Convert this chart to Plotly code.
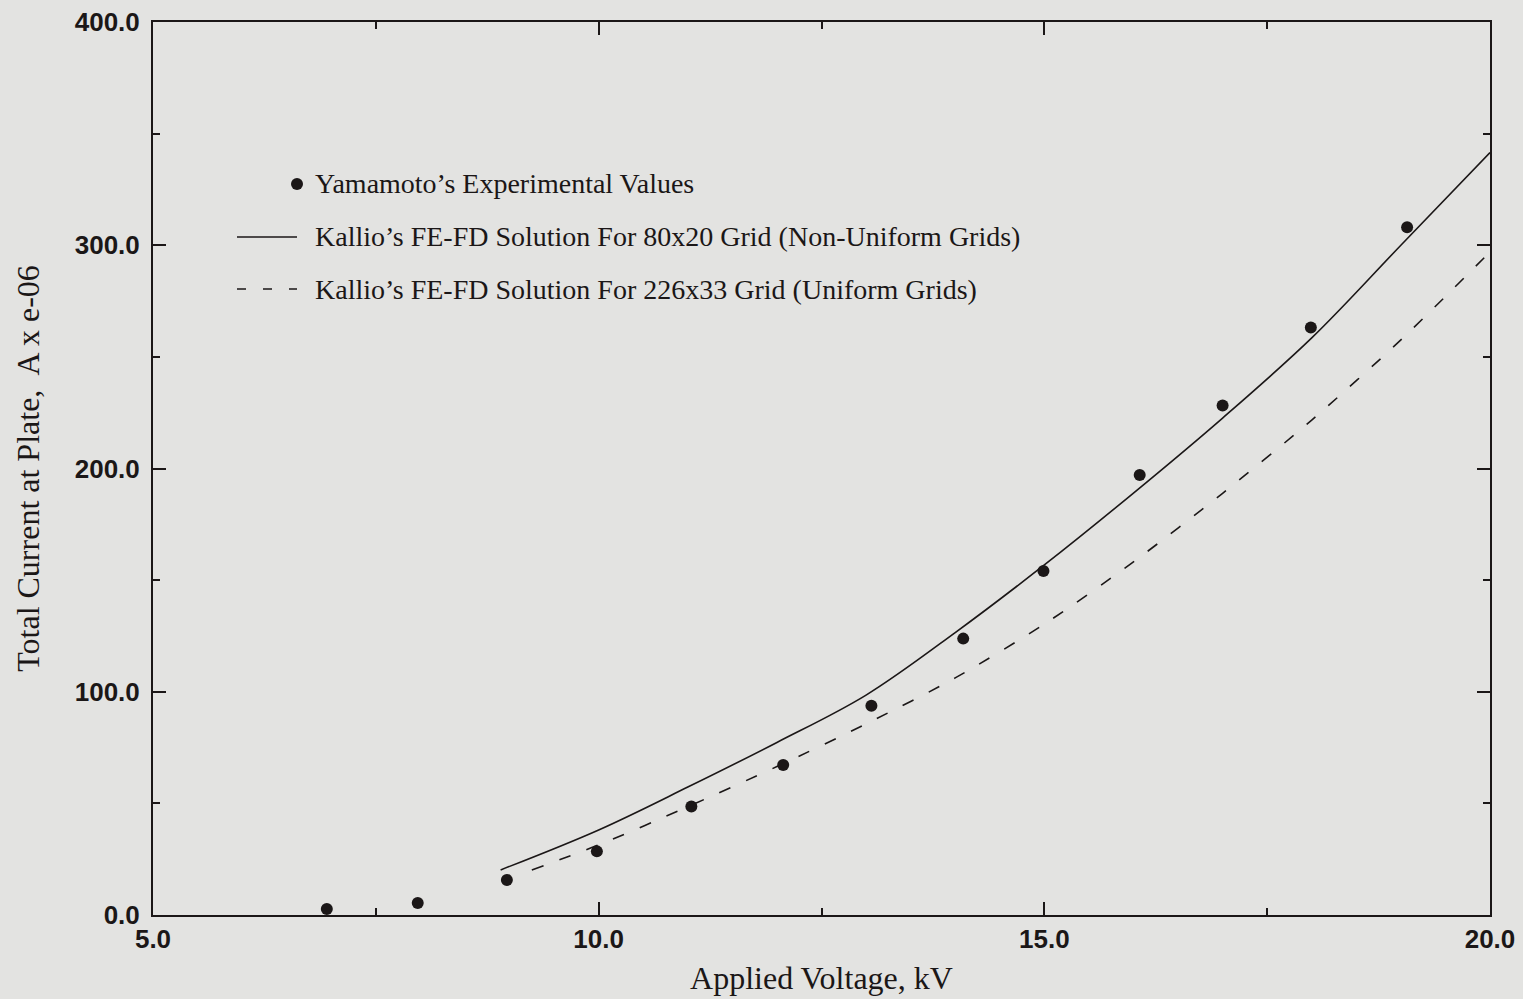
import plotly.graph_objects as go

# Measured plate current (Yamamoto)
exp_kv = [6.95, 7.97, 8.97, 9.98, 11.04, 12.07, 13.06, 14.09, 14.99, 16.07, 17.0, 17.99, 19.07]
exp_current = [2.7, 5.4, 15.7, 28.5, 48.6, 67.2, 93.7, 123.8, 154.1, 197.1, 228.2, 263.2, 308.1]

# Kallio FE-FD solution, 80x20 non-uniform grid
nonuni_kv = [8.9, 10.0, 11.0, 12.0, 13.0, 14.0, 15.0, 16.0, 17.0, 18.0, 19.0, 20.0]
nonuni_current = [20.2, 38.1, 57.3, 77.3, 98.5, 126.5, 156.8, 189.0, 222.6, 258.5, 300.0, 341.5]

# Kallio FE-FD solution, 226x33 uniform grid
uni_kv = [9.25, 10.0, 11.0, 12.0, 13.0, 14.0, 15.0, 16.0, 17.0, 18.0, 19.0, 20.0]
uni_current = [20.2, 31.4, 48.5, 66.5, 85.6, 106.2, 130.3, 158.2, 188.9, 221.7, 257.6, 297.0]

legend_labels = [
    "Yamamoto\u2019s Experimental Values",
    "Kallio\u2019s FE-FD Solution For 80x20 Grid (Non-Uniform Grids)",
    "Kallio\u2019s FE-FD Solution For 226x33 Grid (Uniform Grids)",
]

x_ticks = [5.0, 10.0, 15.0, 20.0]
y_ticks = [0.0, 100.0, 200.0, 300.0, 400.0]

INK = "#1b1717"
BG = "#e3e3e1"
SERIF = "Liberation Serif, Times New Roman, serif"
SANS = "Liberation Sans, Arial, sans-serif"

fig = go.Figure()
fig.add_trace(go.Scatter(x=nonuni_kv, y=nonuni_current, mode="lines",
                         line=dict(color=INK, width=1.6, shape="spline", smoothing=1.0),
                         name=legend_labels[1]))
fig.add_trace(go.Scatter(x=uni_kv, y=uni_current, mode="lines",
                         line=dict(color=INK, width=1.6, dash="12px,17px",
                                   shape="spline", smoothing=0.8),
                         name=legend_labels[2]))
fig.add_trace(go.Scatter(x=exp_kv, y=exp_current, mode="markers",
                         marker=dict(color=INK, size=12), name=legend_labels[0]))

W, H = 1523, 999
L, R, T, B = 153, 33, 22, 84
pw, ph = W - L - R, H - T - B


def px(xp):
    return (xp - L) / pw


def py(yp):
    return (H - B - yp) / ph


shapes = []
annotations = []
# hand-built legend
rows = [184, 237, 289]
shapes.append(dict(type="circle", xref="paper", yref="paper",
                   x0=px(291), x1=px(303), y0=py(rows[0] + 6), y1=py(rows[0] - 6),
                   fillcolor=INK, line=dict(color=INK, width=0)))
shapes.append(dict(type="line", xref="paper", yref="paper",
                   x0=px(237), x1=px(297), y0=py(rows[1]), y1=py(rows[1]),
                   line=dict(color=INK, width=1.6)))
shapes.append(dict(type="line", xref="paper", yref="paper",
                   x0=px(237), x1=px(297), y0=py(rows[2]), y1=py(rows[2]),
                   line=dict(color=INK, width=1.6, dash="9px,17px")))
for label, yr in zip(legend_labels, rows):
    annotations.append(dict(xref="paper", yref="paper", x=px(313), y=py(yr),
                            xanchor="left", yanchor="middle", showarrow=False,
                            text=label, font=dict(family=SERIF, size=28, color=INK)))

axis_common = dict(
    showline=True, linecolor=INK, linewidth=2, mirror="ticks",
    ticks="inside", ticklen=13, tickwidth=1.6, tickcolor=INK,
    showgrid=False, zeroline=False, tickformat=".1f", automargin=False,
    tickfont=dict(family=SANS, size=26, color=INK, weight="bold"),
    minor=dict(ticks="inside", ticklen=7, tickwidth=1.6, tickcolor=INK, showgrid=False),
)

fig.update_layout(
    width=W, height=H,
    margin=dict(l=L, r=R, t=T, b=B, pad=0),
    paper_bgcolor=BG, plot_bgcolor=BG,
    showlegend=False,
    shapes=shapes, annotations=annotations,
    xaxis=dict(range=[5.0, 20.0], tickvals=x_ticks, **axis_common,
               title=dict(text="Applied Voltage, kV", standoff=13,
                          font=dict(family=SERIF, size=32, color=INK))),
    yaxis=dict(range=[0.0, 400.0], tickvals=y_ticks, **axis_common,
               ticklabelstandoff=6,
               title=dict(text="Total Current at Plate,  A x e-06", standoff=26,
                          font=dict(family=SERIF, size=32, color=INK))),
)
fig.update_xaxes(minor_dtick=2.5, minor_tick0=5.0)
fig.update_yaxes(minor_dtick=50, minor_tick0=0)

fig.write_html("out.html")
